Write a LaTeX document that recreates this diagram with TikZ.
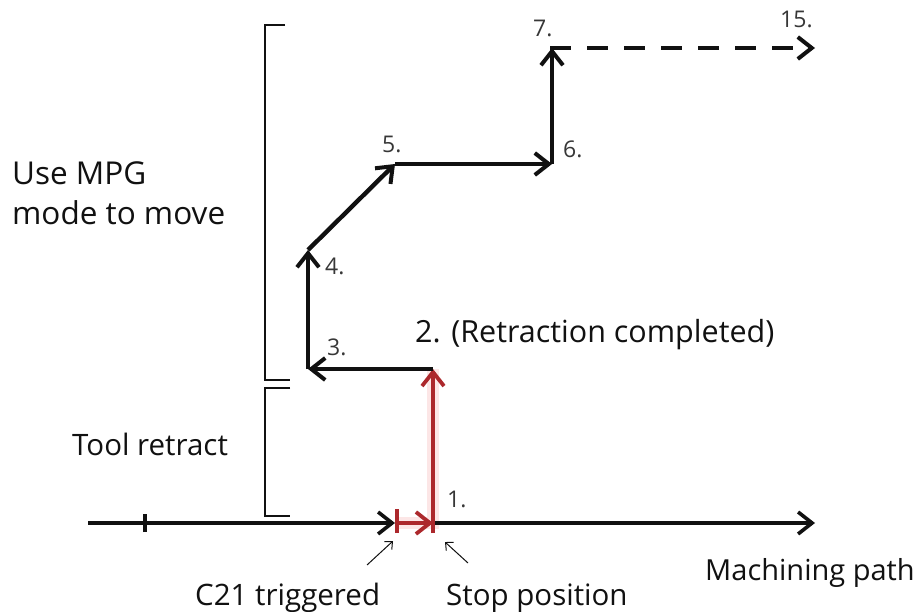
\documentclass[tikz,border=0pt]{standalone}
\usepackage{fontspec}
\setmainfont{Open Sans}
\usetikzlibrary{arrows.meta}
\definecolor{pathred}{RGB}{172,40,44}
\definecolor{glowred}{RGB}{240,120,120}
\definecolor{ink}{RGB}{17,17,17}
\definecolor{numgray}{RGB}{55,55,55}
\begin{document}
\begin{tikzpicture}[x=1pt,y=-1pt,
  label/.style={font=\fontsize{29.5}{32}\selectfont, text=ink, inner sep=0pt, anchor=base west},
  biglabel/.style={label, font=\fontsize{31.5}{34}\selectfont},
  num/.style={font=\fontsize{23}{25}\selectfont, text=numgray, inner sep=0pt, anchor=base west},
  barb/.style={-{Straight Barb[length=14pt,width=22pt,line width=#1]}},
  move/.style={draw=ink, line width=4.4pt, barb=4pt},
  redmove/.style={draw=pathred, line width=3.8pt, barb=3.8pt},
  glow/.style={draw=glowred, line width=12pt, opacity=0.18},
  axis/.style={draw=ink, line width=3.4pt, barb=3.6pt},
  bracket/.style={draw=ink, line width=1.9pt},
  pointer/.style={draw=ink, line width=1pt, -{Straight Barb[length=6pt,width=11pt,line width=1pt]}},
  tickmark/.style={line width=4.5pt}
]
\useasboundingbox[fill=white] (0,0) rectangle (918,612);

% machining path
\coordinate (a0) at (88,523);
\coordinate (tk) at (145,523);
\coordinate (c21) at (395,523);
\coordinate (stop) at (433,523);
\coordinate (aend) at (815,523);

% manual moves
\coordinate (p2) at (433,369);
\coordinate (p3) at (308,369);
\coordinate (p4) at (308,250);
\coordinate (p5) at (395,164);
\coordinate (p6) at (552,164);
\coordinate (p7) at (552,48);
\coordinate (p15) at (815,48);

% red glow behind the retraction
\draw[glow] (c21) -- (stop) -- (p2);

% axis
\draw[axis] (a0) -- (c21);
\draw[axis] (stop) -- (aend);
\draw[ink, tickmark] ([yshift=-9pt]tk) -- ([yshift=9pt]tk);

% retraction in red
\draw[pathred, tickmark] ([xshift=2pt,yshift=-10pt]c21) -- ([xshift=2pt,yshift=14pt]c21);
\draw[pathred, tickmark] ([yshift=-10pt]stop) -- ([yshift=14pt]stop);
\draw[redmove] ([xshift=3pt]c21) -- (stop);
\draw[redmove] (stop) -- (p2);

% MPG moves
\draw[move] (p2) -- (p3);
\draw[move] (p3) -- (p4);
\draw[move] (p4) -- (p5);
\draw[move] (p5) -- (p6);
\draw[move] (p6) -- (p7);
\draw[move, dash pattern=on 21pt off 16pt] ([xshift=-2pt]p7) -- (p15);

% brackets
\coordinate (b1) at (285,25);
\coordinate (b2) at (265,25);
\coordinate (b3) at (265,380);
\coordinate (b4) at (290,380);
\coordinate (b5) at (290,388);
\coordinate (b6) at (265,388);
\coordinate (b7) at (265,516);
\coordinate (b8) at (290,516);
\draw[bracket] (b1) -- (b2) -- (b3) -- (b4);
\draw[bracket] (b5) -- (b6) -- (b7) -- (b8);

% pointers
\coordinate (q1) at (367,565);
\coordinate (q2) at (393,541);
\coordinate (q3) at (468,563);
\coordinate (q4) at (445,542);
\draw[pointer] (q1) -- (q2);
\draw[pointer] (q3) -- (q4);

% labels
\node[biglabel] (mpg1) at (12,185) {Use MPG};
\node[biglabel] (mpg2) at (12,225) {mode to move};
\node[label] (tool) at (72,455) {Tool retract};
\node[label] (c21t) at (195,605) {C21 triggered};
\node[label] (stopt) at (446,605) {Stop position};
\node[label, font=\fontsize{29}{32}\selectfont] (mach) at (705,580) {Machining path};
\node[label, font=\fontsize{30.5}{33}\selectfont] (ret) at (415,342) {2. (Retraction completed)};

\node[num] (n1) at (447,507) {1.};
\node[num] (n3) at (327,355) {3.};
\node[num] (n4) at (325,275) {4.};
\node[num] (n5) at (382,153) {5.};
\node[num] (n6) at (563,158) {6.};
\node[num] (n7) at (533,37) {7.};
\node[num] (n15) at (780,28) {15.};
\end{tikzpicture}
\end{document}
